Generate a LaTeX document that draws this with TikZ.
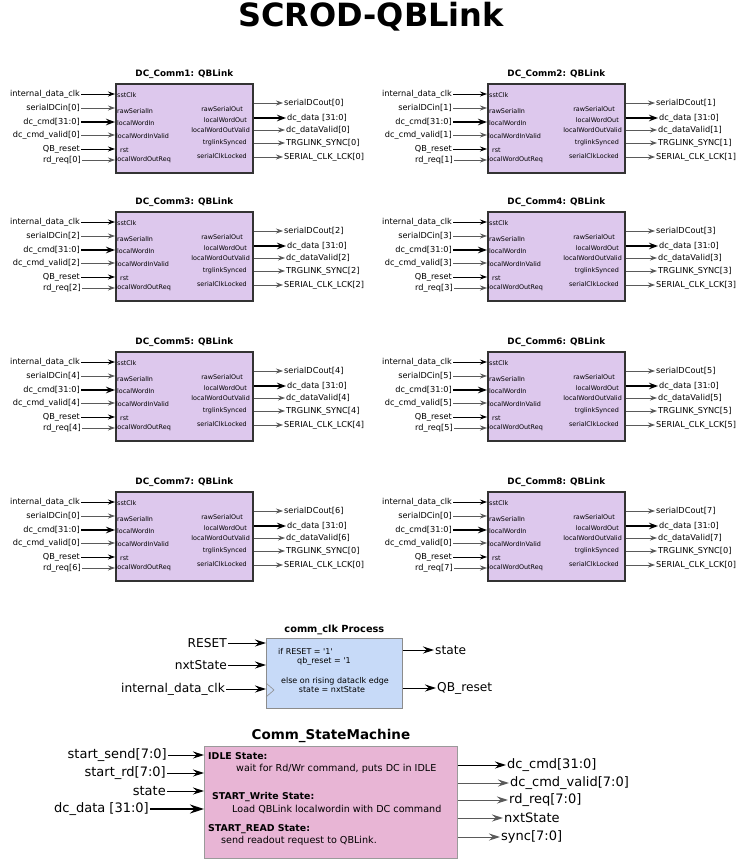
\documentclass[tikz,border=0pt]{standalone}
\usepackage{fontspec}
\setmainfont{DejaVu Sans}
\usetikzlibrary{arrows.meta,positioning}
\definecolor{LinkFill}{HTML}{DDC8ED}
\definecolor{LinkEdge}{HTML}{333333}
\definecolor{ProcFill}{HTML}{C7DAF8}
\definecolor{ProcEdge}{HTML}{8C8C8C}
\definecolor{FsmFill}{HTML}{E8B5D5}
\definecolor{FsmEdge}{HTML}{9A9A9A}
\definecolor{WireGray}{HTML}{5A5A5A}
\newcommand{\setfs}[1]{\fontsize{#1}{#1}\selectfont}
\tikzset{
  x=1pt,y=-1pt,
  wire/.style={draw=black,line width=0.8pt,-{Stealth[length=7pt,width=5pt]}},
  graywire/.style={wire,draw=WireGray},
  buswire/.style={wire,line width=1.3pt,-{Stealth[length=9pt,width=6.5pt]}},
  bigwire/.style={draw=black,line width=1pt,-{Stealth[length=11pt,width=7pt]}},
  biggray/.style={bigwire,draw=WireGray},
  bigbus/.style={bigwire,line width=1.5pt,-{Stealth[length=14pt,width=9pt]}},
  linkbox/.style={draw=LinkEdge,fill=LinkFill,line width=1.6pt,minimum width=137pt,minimum height=89pt,anchor=north west,inner sep=0pt},
  linktitle/.style={font=\bfseries\setfs{8.8},inner sep=1pt},
  pinlabel/.style={font=\setfs{8.2},inner sep=1pt},
  portname/.style={font=\setfs{6.4},inner sep=0pt},
  procbox/.style={draw=ProcEdge,fill=ProcFill,line width=0.8pt,minimum width=136pt,minimum height=70pt,anchor=north west,inner sep=0pt},
  fsmbox/.style={draw=FsmEdge,fill=FsmFill,line width=0.8pt,minimum width=253pt,minimum height=112pt,anchor=north west,inner sep=0pt},
  blocktitle/.style={font=\bfseries\setfs{9.8},inner sep=1pt},
  fsmtitle/.style={font=\bfseries\setfs{13.5},inner sep=1pt},
  siglabel/.style={font=\setfs{12.2},inner sep=1pt},
  proctext/.style={font=\setfs{8},inner sep=0pt},
  statehead/.style={font=\bfseries\setfs{9.4},inner sep=0pt,anchor=west},
  statetext/.style={font=\setfs{9.6},inner sep=0pt,anchor=west}
}
% one QBLink block: number, NW corner, then the indices of its signals
\newcommand{\qblink}[8]{%
  \begin{scope}[shift={#2}]
    \node[linkbox] (link#1) at (0,0) {};
    \node[linktitle,above=3pt of link#1] (name#1) {DC\_Comm#1: QBLink};
    % port names
    \node[portname,anchor=west] (sst#1) at (2,12) {sstClk};
    \node[portname,anchor=west] (rsi#1) at (2,28) {rawSerialIn};
    \node[portname,anchor=west] (lwi#1) at (2,40) {localWordIn};
    \node[portname,anchor=west] (lwv#1) at (1,53) {localWordInValid};
    \node[portname,anchor=west] (rst#1) at (5,67) {rst};
    \node[portname,anchor=west] (lwr#1) at (0.5,77) {localWordOutReq};
    \node[portname,anchor=east] (rso#1) at (128,26) {rawSerialOut};
    \node[portname,anchor=east] (lwo#1) at (132,37) {localWordOut};
    \node[portname,anchor=east] (lov#1) at (135,47) {localWordOutValid};
    \node[portname,anchor=east] (tls#1) at (132,60) {trglinkSynced};
    \node[portname,anchor=east] (scl#1) at (132,73) {serialClkLocked};
    % inputs
    \node[pinlabel,anchor=east] (clkin#1) at (-34,11) {internal\_data\_clk};
    \node[pinlabel,anchor=east] (serin#1) at (-34,25) {serialDCin[#3]};
    \node[pinlabel,anchor=east] (cmdin#1) at (-34,39) {dc\_cmd[31:0]};
    \node[pinlabel,anchor=east] (valin#1) at (-34,52) {dc\_cmd\_valid[#4]};
    \node[pinlabel,anchor=east] (rstin#1) at (-34,66) {QB\_reset};
    \node[pinlabel,anchor=east] (reqin#1) at (-33,77) {rd\_req[#5]};
    \draw[wire] (clkin#1) -- (clkin#1 -| link#1.west);
    \draw[graywire] (serin#1) -- (serin#1 -| link#1.west);
    \draw[buswire] (cmdin#1) -- (cmdin#1 -| link#1.west);
    \draw[graywire] (valin#1) -- (valin#1 -| link#1.west);
    \draw[wire] (rstin#1) -- (rstin#1 -| link#1.west);
    \draw[graywire] (reqin#1) -- (reqin#1 -| link#1.west);
    % outputs
    \node[pinlabel,anchor=west] (serout#1) at (168,20) {serialDCout[#6]};
    \node[pinlabel,anchor=west] (datout#1) at (171,35) {dc\_data [31:0]};
    \node[pinlabel,anchor=west] (valout#1) at (170,47) {dc\_dataValid[#7]};
    \node[pinlabel,anchor=west] (synout#1) at (170,60) {TRGLINK\_SYNC[#8]};
    \node[pinlabel,anchor=west] (lckout#1) at (168,74) {SERIAL\_CLK\_LCK[#8]};
    \draw[graywire] (serout#1 -| link#1.east) -- (serout#1);
    \draw[buswire] (datout#1 -| link#1.east) -- (datout#1);
    \draw[graywire] (valout#1 -| link#1.east) -- (valout#1);
    \draw[graywire] (synout#1 -| link#1.east) -- (synout#1);
    \draw[graywire] (lckout#1 -| link#1.east) -- (lckout#1);
  \end{scope}}

\begin{document}
\begin{tikzpicture}
  \useasboundingbox (0,0) rectangle (738,860);
  \node[font=\bfseries\setfs{32}] (title) at (371,17) {SCROD-QBLink};

  \qblink{1}{(115,83)}{0}{0}{0}{0}{0}{0}
  \qblink{2}{(487,83)}{1}{1}{1}{1}{1}{1}
  \qblink{3}{(115,211)}{2}{2}{2}{2}{2}{2}
  \qblink{4}{(487,211)}{3}{3}{3}{3}{3}{3}
  \qblink{5}{(115,351)}{4}{4}{4}{4}{4}{4}
  \qblink{6}{(487,351)}{5}{5}{5}{5}{5}{5}
  \qblink{7}{(115,491)}{0}{0}{6}{6}{6}{0}
  \qblink{8}{(487,491)}{0}{0}{7}{7}{7}{0}

  % clock process
  \node[procbox] (proc) at (266,638) {};
  \node[blocktitle,above=2pt of proc] (procname) {comm\_clk Process};
  \node[proctext,anchor=west] (ifrst) at (278,652) {if RESET = \textquotesingle1\textquotesingle};
  \node[proctext,anchor=west] (qbrst) at (297,661) {qb\_reset = \textquotesingle1};
  \node[proctext] (onedge) at (335,681) {else on rising dataclk edge};
  \node[proctext] (nxt) at (332,690) {state = nxtState};
  \draw[ProcEdge,line width=0.6pt] (proc.west |- 0,683) -- (274,690) -- (proc.west |- 0,697);
  \node[siglabel,anchor=east] (reset) at (228,643) {RESET};
  \node[siglabel,anchor=east] (nxtin) at (228,665) {nxtState};
  \node[siglabel,anchor=east] (clkin) at (226,689) {internal\_data\_clk};
  \draw[bigwire] (reset) -- (reset -| proc.west);
  \draw[bigwire] (nxtin) -- (nxtin -| proc.west);
  \draw[bigwire] (clkin) -- (clkin -| proc.west);
  \node[siglabel,anchor=west] (stout) at (434,650) {state};
  \node[siglabel,anchor=west] (qbout) at (436,688) {QB\_reset};
  \draw[bigwire] (stout -| proc.east) -- (stout);
  \draw[bigwire] (qbout -| proc.east) -- (qbout);

  % state machine
  \node[fsmbox] (fsm) at (204,746) {};
  \node[fsmtitle,above=2pt of fsm] (fsmname) {Comm\_StateMachine};
  \node[statehead] (idle) at (208,756) {IDLE State:};
  \node[statetext] (idletxt) at (236,769) {wait for Rd/Wr command, puts DC in IDLE};
  \node[statehead] (write) at (212,797) {START\_Write State:};
  \node[statetext] (writetxt) at (232,809) {Load QBLink localwordin with DC command};
  \node[statehead] (read) at (208,829) {START\_READ State:};
  \node[statetext] (readtxt) at (221,841) {send readout request to QBLink.};
  \node[siglabel,font=\setfs{13}] (send) at (168,755) [anchor=east] {start\_send[7:0]};
  \node[siglabel,font=\setfs{13}] (rdin) at (167,773) [anchor=east] {start\_rd[7:0]};
  \node[siglabel,font=\setfs{13}] (stin) at (167,791) [anchor=east] {state};
  \node[siglabel,font=\setfs{13}] (datin) at (150,809) [anchor=east] {dc\_data [31:0]};
  \draw[bigwire] (send) -- (send -| fsm.west);
  \draw[bigwire] (rdin) -- (rdin -| fsm.west);
  \draw[bigwire] (stin) -- (stin -| fsm.west);
  \draw[bigbus] (datin) -- (datin -| fsm.west);
  \node[siglabel,font=\setfs{13},anchor=west] (cmdout) at (506,765) {dc\_cmd[31:0]};
  \node[siglabel,font=\setfs{13},anchor=west] (valout) at (509,783) {dc\_cmd\_valid[7:0]};
  \node[siglabel,font=\setfs{13},anchor=west] (reqout) at (508,800) {rd\_req[7:0]};
  \node[siglabel,font=\setfs{13},anchor=west] (nxtout) at (503,818) {nxtState};
  \node[siglabel,font=\setfs{13},anchor=west] (syncout) at (500,837) {sync[7:0]};
  \draw[bigwire] (cmdout -| fsm.east) -- (cmdout);
  \draw[biggray] (valout -| fsm.east) -- (valout);
  \draw[biggray] (reqout -| fsm.east) -- (reqout);
  \draw[biggray] (nxtout -| fsm.east) -- (nxtout);
  \draw[biggray] (syncout -| fsm.east) -- (syncout);
\end{tikzpicture}
\end{document}
